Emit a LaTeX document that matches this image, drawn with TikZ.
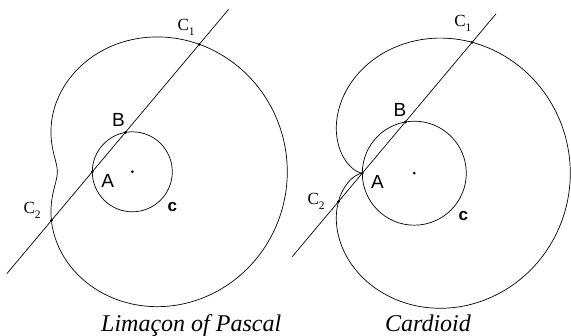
\documentclass[tikz,border=0pt]{standalone}
\usepackage{fontspec}
\setmainfont{Liberation Serif}
\newfontfamily\lsans{Liberation Sans}
\begin{document}
\begin{tikzpicture}[x=1pt,y=1pt,line width=0.7pt,
  dot/.style={circle,fill=black,inner sep=0pt,minimum size=3pt},
  clab/.style={inner sep=0pt,anchor=base west,font=\fontsize{17}{17}\selectfont},
  slab/.style={inner sep=0pt,anchor=base west,font=\lsans\fontsize{19}{19}\selectfont},
  blab/.style={inner sep=0pt,anchor=base west,font=\lsans\bfseries\fontsize{17}{17}\selectfont},
  captext/.style={inner sep=0pt,anchor=base,font=\itshape\fontsize{24}{24}\selectfont}]
\newcommand{\sub}[1]{\raisebox{-5pt}{\fontsize{11.5}{11.5}\selectfont #1}}
\useasboundingbox (0,0) rectangle (571,336);
% ---------- left: limacon ----------
\coordinate (A1) at (92.3,164.2);
\coordinate (O1) at (132.3,164.2);
\path (A1) ++(50:51.42) coordinate (B1);
\path (A1) ++(50:166.42) coordinate (C11);
\path (A1) ++(230:63.58) coordinate (C21);
\path (A1) ++(50:212) coordinate (P1);
\path (A1) ++(230:133) coordinate (Q1);
\draw (O1) circle[radius=40];
\draw[shift={(A1)}] plot[domain=0:360,samples=240,smooth] (\x:{80*cos(\x)+115});
\draw (Q1) -- (P1);
\node[dot] (dA1) at (A1) {};
\node[dot] (dB1) at (B1) {};
\node[dot] (dC11) at (C11) {};
\node[dot] (dC21) at (C21) {};
\node[dot] (dO1) at (O1) {};
\node[clab] (lC11) at (177.3,305.3) {C\sub{1}};
\node[clab] (lC21) at (23.3,122.7) {C\sub{2}};
\node[slab] (lB1) at (111.7,209.3) {B};
\node[slab] (lA1) at (101,148.7) {A};
\node[blab] (lc1) at (167.3,124.3) {c};
\node[captext] (cap1) at (191.2,4.2) {Limaçon of Pascal};
% ---------- right: cardioid ----------
\coordinate (A2) at (362.3,162.8);
\coordinate (O2) at (414.3,162.8);
\path (A2) ++(50:66.85) coordinate (B2);
\path (A2) ++(50:170.85) coordinate (C12);
\path (A2) ++(230:37.15) coordinate (C22);
\path (A2) ++(50:208) coordinate (P2);
\path (A2) ++(230:109) coordinate (Q2);
\draw (O2) circle[radius=52];
\draw[shift={(A2)}] plot[domain=0:360,samples=240,smooth] (\x:{104*cos(\x)+104});
\draw (Q2) -- (P2);
\node[dot] (dA2) at (A2) {};
\node[dot] (dB2) at (B2) {};
\node[dot] (dC12) at (C12) {};
\node[dot] (dC22) at (C22) {};
\node[dot] (dO2) at (O2) {};
\node[clab] (lC12) at (454,309) {C\sub{1}};
\node[clab] (lC22) at (307.3,131) {C\sub{2}};
\node[slab] (lB2) at (393.3,219.3) {B};
\node[slab] (lA2) at (370.7,147) {A};
\node[blab] (lc2) at (458.3,115.3) {c};
\node[captext] (cap2) at (428,4.2) {Cardioid};
\end{tikzpicture}
\end{document}
